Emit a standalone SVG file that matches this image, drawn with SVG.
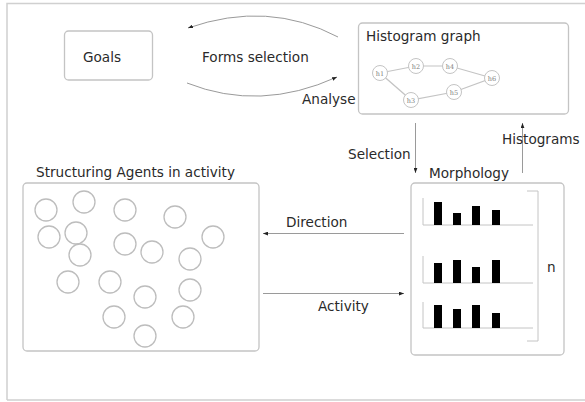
<svg xmlns="http://www.w3.org/2000/svg" width="585" height="402" viewBox="0 0 585 402">
<defs>
<style>
.box{fill:#fff;stroke:#c4c4c4;stroke-width:1.3}
.t{font-family:"DejaVu Sans",Verdana,sans-serif;font-size:13.6px;fill:#2a2a2a}
.conn{fill:none;stroke:#9a9a9a;stroke-width:1}
.ag{fill:none;stroke:#bdbdbd;stroke-width:1.3}
.hn{fill:#fff;stroke:#c4c4c4;stroke-width:1}
.hl{font-family:"DejaVu Serif","Liberation Serif",serif;font-size:6.5px;fill:#808080;text-anchor:middle}
.he{stroke:#c4c4c4;stroke-width:1.2;fill:none}
.bar{fill:#000}
.ax{stroke:#c4c4c4;stroke-width:1;fill:none}
</style>
<marker id="ah" viewBox="0 0 8 6" refX="8" refY="3" markerWidth="5" markerHeight="4" orient="auto" markerUnits="userSpaceOnUse">
<path d="M0,0 L8,3 L0,6 z" fill="#222"/>
</marker>
</defs>
<rect x="0" y="0" width="585" height="402" fill="#fff"/>
<path d="M7,400 L7,3.5 L585,3.5 M7,400 L585,400" fill="none" stroke="#d0d0d0" stroke-width="1.5"/>

<g id="goals">
<rect class="box" x="64.5" y="31" width="88" height="49" rx="4"/>
<text class="t" x="102" y="62" text-anchor="middle">Goals</text>
</g>

<g id="forms-selection">
<text class="t" x="202" y="62">Forms selection</text>
</g>

<g id="histogram-graph">
<rect class="box" x="358.5" y="23" width="210" height="91" rx="4"/>
<text class="t" x="366" y="41">Histogram graph</text>
<path class="he" d="M380,73 L416,66 L450,66 L492,78 L454,92 L411,100 Z"/>
<circle class="hn" cx="380" cy="73" r="7.5"/><text class="hl" x="380" y="75.5">h1</text>
<circle class="hn" cx="416" cy="66" r="7.5"/><text class="hl" x="416" y="68.5">h2</text>
<circle class="hn" cx="450" cy="66" r="7.5"/><text class="hl" x="450" y="68.5">h4</text>
<circle class="hn" cx="492" cy="78" r="7.5"/><text class="hl" x="492" y="80.5">h6</text>
<circle class="hn" cx="454" cy="92" r="7.5"/><text class="hl" x="454" y="94.5">h5</text>
<circle class="hn" cx="411" cy="100" r="7.5"/><text class="hl" x="411" y="102.5">h3</text>
</g>

<g id="agents">
<text class="t" x="36" y="177">Structuring Agents in activity</text>
<rect class="box" x="23" y="183" width="236" height="168" rx="4"/>
<circle class="ag" cx="46" cy="210" r="11"/>
<circle class="ag" cx="84" cy="202" r="11"/>
<circle class="ag" cx="125" cy="210" r="11"/>
<circle class="ag" cx="175" cy="217" r="11"/>
<circle class="ag" cx="49" cy="237" r="11"/>
<circle class="ag" cx="76" cy="233" r="11"/>
<circle class="ag" cx="213" cy="237" r="11"/>
<circle class="ag" cx="125" cy="244" r="11"/>
<circle class="ag" cx="152" cy="252" r="11"/>
<circle class="ag" cx="80" cy="255" r="11"/>
<circle class="ag" cx="190" cy="259" r="11"/>
<circle class="ag" cx="68" cy="282" r="11"/>
<circle class="ag" cx="110" cy="282" r="11"/>
<circle class="ag" cx="145" cy="297" r="11"/>
<circle class="ag" cx="190" cy="290" r="11"/>
<circle class="ag" cx="114" cy="317" r="11"/>
<circle class="ag" cx="183" cy="317" r="11"/>
<circle class="ag" cx="145" cy="336" r="11"/>
</g>

<g id="morphology">
<text class="t" x="429" y="178">Morphology</text>
<rect class="box" x="411" y="183" width="153" height="172" rx="4"/>
<path class="ax" d="M423,198 L423,225 L533,225"/>
<rect class="bar" x="434" y="202" width="8" height="23"/>
<rect class="bar" x="453" y="213" width="8" height="12"/>
<rect class="bar" x="472" y="206" width="8" height="19"/>
<rect class="bar" x="492" y="210" width="8" height="15"/>
<path class="ax" d="M423,256 L423,283 L533,283"/>
<rect class="bar" x="434" y="263" width="8" height="20"/>
<rect class="bar" x="453" y="260" width="8" height="23"/>
<rect class="bar" x="472" y="267" width="8" height="16"/>
<rect class="bar" x="492" y="260" width="8" height="23"/>
<path class="ax" d="M423,302 L423,328 L533,328"/>
<rect class="bar" x="434" y="305" width="8" height="23"/>
<rect class="bar" x="453" y="309" width="8" height="19"/>
<rect class="bar" x="472" y="305" width="8" height="23"/>
<rect class="bar" x="492" y="313" width="8" height="15"/>
<path class="ax" d="M527,191 L538,191 L538,341 L527,341"/>
<text class="t" x="547" y="272">n</text>
</g>

<g id="connectors">
<path class="conn" d="M338,37 Q268,0 188,28" marker-end="url(#ah)"/>
<path class="conn" d="M187,83 Q260,112 337,77" marker-end="url(#ah)"/>
<text class="t" x="302" y="104">Analyse</text>
<line class="conn" x1="415.5" y1="123" x2="415.5" y2="173" marker-end="url(#ah)"/>
<text class="t" x="348" y="159">Selection</text>
<line class="conn" x1="522.5" y1="173" x2="522.5" y2="123" marker-end="url(#ah)"/>
<text class="t" x="502" y="144">Histograms</text>
<line class="conn" x1="404" y1="233.5" x2="263" y2="233.5" marker-end="url(#ah)"/>
<text class="t" x="286" y="227">Direction</text>
<line class="conn" x1="263" y1="293.5" x2="404" y2="293.5" marker-end="url(#ah)"/>
<text class="t" x="318" y="311">Activity</text>
</g>
</svg>
